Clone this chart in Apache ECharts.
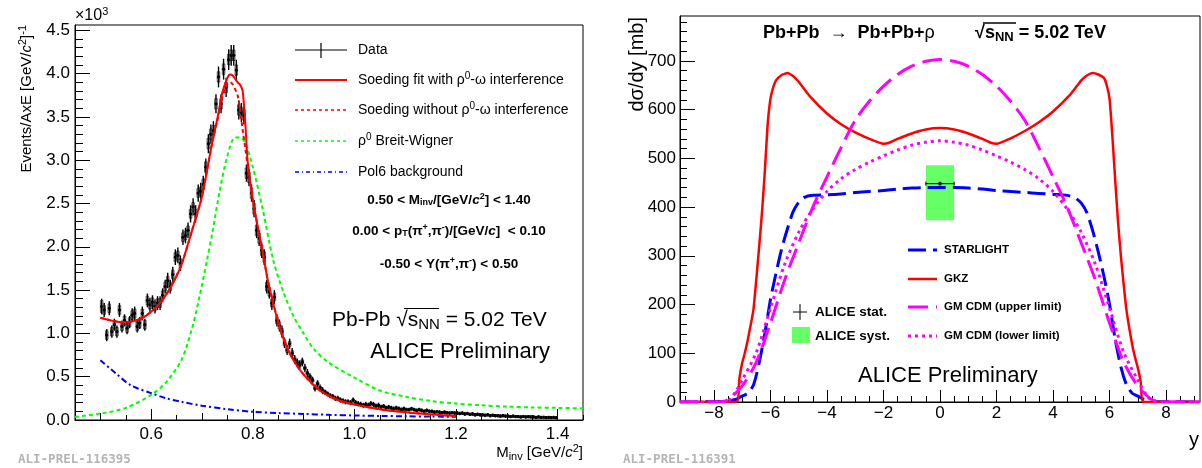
<!DOCTYPE html>
<html><head><meta charset="utf-8">
<script src="https://cdn.jsdelivr.net/npm/echarts@6.0.0/dist/echarts.min.js"></script>
<style>html,body{margin:0;padding:0;background:#fff}#c{width:1202px;height:468px}</style>
</head><body><div id="c"></div><script>
// ---------------- LEFT PANEL DATA ----------------
const binStart = 0.50, binWidth = 0.005;   // histogram binning in M_inv
const dataValues = [ // x10^3
 1.31,1.27,0.98,1.29,1.02,1.10,1.02,1.27,1.08,1.15,
 1.06,1.13,1.21,1.23,1.08,1.12,1.23,1.10,1.38,1.33,
 1.36,1.31,1.35,1.35,1.44,1.54,1.61,1.54,1.68,1.88,
 1.90,1.81,2.11,2.13,2.19,2.38,2.46,2.38,2.62,2.64,
 2.72,2.92,3.19,3.30,3.34,3.65,3.96,3.65,4.05,3.84,
 4.16,4.21,4.21,4.04,3.58,3.55,3.52,2.85,2.80,2.62,
 2.44,2.19,2.10,1.96,1.88,
 1.54,1.48,1.35,1.42,1.15,1.09,1.02,0.89,0.81,0.88,
 0.77,0.70,0.66,0.64,0.67,0.60,0.54,0.50,0.46,0.37,
 0.42,0.37,0.34,0.32,0.30,0.28,0.27,0.25,0.25,0.23,
 0.22,0.21,0.21,0.20,0.23,
 0.20,0.19,0.18,0.17,0.18,0.17,0.19,0.18,0.16,0.17,
 0.15,0.16,0.14,0.15,0.14,0.13,0.14,0.13,0.12,0.13,
 0.12,0.12,0.13,0.12,0.11,0.12,0.11,0.10,0.11,0.10,
 0.10,0.09,0.095,0.09,0.085,0.09,0.085,0.08,0.085,0.08,
 0.08,0.075,0.08,0.07,0.075,0.065,0.07,0.06,0.065,0.06,
 0.06,0.055,0.06,0.05,0.055,0.05,0.05,0.045,0.05,0.045,
 0.045,0.04,0.045,0.04,0.04,0.035,0.04,0.035,0.038,0.035,
 0.035,0.03,0.035,0.03,0.032,0.028,0.03,0.028,0.03,0.027
];
const statErr = [
 0.09,0.08,0.07,0.08,0.07,0.07,0.07,0.08,0.07,0.07,
 0.07,0.07,0.08,0.08,0.07,0.07,0.08,0.07,0.08,0.08,
 0.08,0.08,0.08,0.08,0.08,0.08,0.09,0.08,0.09,0.09,
 0.09,0.09,0.09,0.09,0.09,0.10,0.10,0.10,0.10,0.10,
 0.10,0.10,0.11,0.11,0.11,0.11,0.12,0.11,0.12,0.11,
 0.12,0.12,0.12,0.12,0.11,0.11,0.11,0.10,0.10,0.10,
 0.10,0.09,0.09,0.09,0.09,
 0.08,0.08,0.08,0.08,0.07,0.07,0.07,0.06,0.06,0.06,
 0.06,0.05,0.05,0.05,0.05,0.05,0.05,0.04,0.04,0.04,
 0.04,0.04,0.04,0.03,0.03,0.03,0.03,0.03,0.03,0.03,
 0.03,0.03,0.03,0.03,0.03,
 0.03,0.03,0.03,0.03,0.03,0.03,0.03,0.03,0.03,0.03,
 0.025,0.025,0.025,0.025,0.025,0.025,0.025,0.025,0.025,0.025,
 0.022,0.022,0.022,0.022,0.022,0.022,0.022,0.022,0.022,0.022,
 0.02,0.02,0.02,0.02,0.02,0.02,0.02,0.02,0.02,0.02,
 0.02,0.02,0.02,0.02,0.02,0.02,0.02,0.02,0.02,0.02,
 0.018,0.018,0.018,0.018,0.018,0.018,0.018,0.018,0.018,0.018,
 0.016,0.016,0.016,0.016,0.016,0.016,0.016,0.016,0.016,0.016,
 0.015,0.015,0.015,0.015,0.015,0.015,0.015,0.015,0.015,0.015
];
const sysErr = [
 0.07,0.05,0.05,0.05,0.05,0.05,0.05,0.05,0.05,0.05,
 0.05,0.05,0.05,0.05,0.05,0.05,0.05,0.05,0.05,0.05,
 0.05,0.05,0.05,0.05,0.05,0.05,0.05,0.05,0.05,0.05,
 0.05,0.05,0.05,0.05,0.05,0.05,0.05,0.05,0.05,0.05,
 0.06,0.06,0.06,0.06,0.06,0.06,0.06,0.06,0.06,0.06,
 0.06,0.06,0.06,0.06,0.06,0.06,0.06,0.06,0.06,0.06,
 0.06,0.06,0.06,0.06,0.06,
 0.05,0.05,0.045,0.045,0.04,0.04,0.035,0.035,0.03,0.03,
 0.03,0.025,0.025,0.025,0.025,0.02,0.02,0.02,0.02,0.02,
 0.02,0.018,0.018,0.018,0.016,0.016,0.016,0.015,0.015,0.015,
 0.014,0.014,0.013,0.013,0.013,
 0.012,0.012,0.012,0.012,0.012,0.012,0.012,0.012,0.012,0.012,
 0.012,0.012,0.012,0.012,0.012,0.012,0.012,0.012,0.012,0.012,
 0.012,0.012,0.012,0.012,0.012,0.012,0.012,0.012,0.012,0.012,
 0.012,0.012,0.012,0.012,0.012,0.012,0.012,0.012,0.012,0.012,
 0.012,0.012,0.012,0.012,0.012,0.012,0.012,0.012,0.012,0.012,
 0.012,0.012,0.012,0.012,0.012,0.012,0.012,0.012,0.012,0.012,
 0.012,0.012,0.012,0.012,0.012,0.012,0.012,0.012,0.012,0.012,
 0.012,0.012,0.012,0.012,0.012,0.012,0.012,0.012,0.012,0.012
];
const fitMass = [0.50,0.52,0.54,0.56,0.58,0.60,0.62,0.64,0.66,0.68,0.70,0.72,0.73,0.74,0.75,0.755,0.76,0.77,0.775,0.78,0.785,0.79,0.80,0.81,0.82,0.83,0.85,0.87,0.89,0.91,0.93,0.95,0.97,1.00,1.05,1.10,1.15,1.20];
const fitWith    = [1.18,1.15,1.13,1.135,1.17,1.25,1.37,1.55,1.80,2.18,2.58,3.20,3.47,3.78,3.95,3.99,3.98,3.90,3.87,3.80,3.45,2.98,2.54,2.22,1.92,1.60,1.13,0.80,0.60,0.46,0.35,0.28,0.225,0.18,0.125,0.09,0.065,0.045];
const fitWithout = [1.18,1.15,1.13,1.135,1.17,1.25,1.37,1.55,1.80,2.18,2.58,3.20,3.45,3.73,3.88,3.90,3.88,3.75,3.58,3.35,3.15,2.93,2.54,2.22,1.92,1.60,1.13,0.80,0.60,0.46,0.35,0.28,0.225,0.18,0.125,0.09,0.065,0.045];
const bwMass = [0.45,0.50,0.55,0.60,0.63,0.66,0.68,0.695,0.71,0.72,0.735,0.75,0.765,0.775,0.785,0.80,0.82,0.84,0.86,0.88,0.90,0.92,0.95,1.00,1.05,1.10,1.15,1.20,1.25,1.30,1.35,1.40,1.45];
const bwVal  = [0.035,0.075,0.14,0.29,0.44,0.70,1.05,1.42,1.85,2.15,2.65,3.05,3.26,3.26,3.20,2.92,2.42,1.85,1.48,1.20,1.00,0.82,0.66,0.49,0.34,0.27,0.22,0.19,0.17,0.155,0.145,0.14,0.135];
const pol6Mass = [0.50,0.53,0.56,0.60,0.63,0.66,0.70,0.75,0.80,0.85,0.90,0.95,1.00,1.05,1.10,1.15,1.20];
const pol6Val  = [0.69,0.54,0.40,0.31,0.25,0.21,0.165,0.125,0.095,0.08,0.07,0.06,0.052,0.047,0.043,0.04,0.037];
const leftXMajor = [0.6,0.8,1.0,1.2,1.4];
const leftXMid   = [0.5,0.7,0.9,1.1,1.3];
const leftXMinor = [0.45,0.55,0.65,0.75,0.85,0.95,1.05,1.15,1.25,1.35,1.45];
const leftYMajor = [0,0.5,1,1.5,2,2.5,3,3.5,4,4.5];
const leftYMinor = [0.1,0.2,0.3,0.4,0.6,0.7,0.8,0.9,1.1,1.2,1.3,1.4,1.6,1.7,1.8,1.9,2.1,2.2,2.3,2.4,2.6,2.7,2.8,2.9,3.1,3.2,3.3,3.4,3.6,3.7,3.8,3.9,4.1,4.2,4.3,4.4];

// ---------------- RIGHT PANEL DATA ----------------
const starY   = [-9.2,-7.6,-7.4,-7.2,-7.0,-6.8,-6.6,-6.4,-6.2,-6.0,-5.8,-5.6,-5.4,-5.2,-5.0,-4.8,-4.5,-4.0,-3.5,-3.0,-2.5,-2.0,-1.5,-1.0,-0.5,0,0.5,1.0,1.5,2.0,2.5,3.0,3.5,4.0,4.5,4.8,5.0,5.2,5.4,5.6,5.8,6.0,6.2,6.4,6.6,6.8,7.0,7.2,7.4,7.6,9.2];
const starVal = [0,1,3,6,12,18,35,80,140,210,265,315,355,390,410,420,424,425,427,430,432,434,437,439,440,440,440,439,437,434,432,430,428,426,424,418,408,388,352,308,258,200,128,72,35,18,12,6,3,1,0];
const gkzY   = [-9.2,-7.2,-7.1,-7.0,-6.9,-6.8,-6.6,-6.4,-6.3,-6.2,-6.1,-6.0,-5.9,-5.8,-5.6,-5.4,-5.2,-5.0,-4.6,-4.0,-3.5,-3.0,-2.5,-2.0,-1.8,-1.5,-1.0,-0.5,0,0.5,1.0,1.5,1.8,2.0,2.5,3.0,3.5,4.0,4.6,5.0,5.2,5.4,5.6,5.8,5.9,6.0,6.1,6.2,6.3,6.4,6.6,6.8,6.9,7.0,7.1,7.2,9.2];
const gkzVal = [0,0,48,80,102,128,190,318,388,472,568,622,646,660,671,675,669,657,627,592,570,553,540,530,532,540,551,559,562,559,551,540,532,530,541,556,574,596,630,660,670,675,672,665,650,622,545,455,370,300,188,118,92,70,42,0,0];
const gmUpY   = [-9.2,-7.9,-7.5,-7.0,-6.5,-6.0,-5.5,-5.0,-4.5,-4.0,-3.5,-3.0,-2.5,-2.0,-1.5,-1.0,-0.5,0,0.5,1.0,1.5,2.0,2.5,3.0,3.5,4.0,4.5,5.0,5.5,6.0,6.5,7.0,7.5,7.9,9.2];
const gmUpVal = [0,0,5,33,82,162,250,326,400,462,522,578,617,648,672,689,699,703,699,689,672,648,617,578,522,462,400,326,250,162,82,33,5,0,0];
const gmLoY   = [-9.2,-7.6,-7.3,-7.0,-6.5,-6.0,-5.5,-5.0,-4.5,-4.0,-3.5,-3.0,-2.5,-2.0,-1.5,-1.0,-0.5,0,0.5,1.0,1.5,2.0,2.5,3.0,3.5,4.0,4.5,5.0,5.5,6.0,6.5,7.0,7.3,7.6,9.2];
const gmLoVal = [0,0,15,45,102,192,282,348,396,432,458,477,492,505,517,527,533,536,533,527,517,505,492,477,458,432,396,348,282,192,102,45,15,0,0];
const aliceY = [0], aliceHalfWidth = [0.5], aliceVal = [448], aliceStat = [4], aliceSysLo = [373], aliceSysHi = [486];
const rightXMajor = [-8,-6,-4,-2,0,2,4,6,8];
const rightXMinor = [-9,-8.5,-7.5,-7,-6.5,-5.5,-5,-4.5,-3.5,-3,-2.5,-1.5,-1,-0.5,0.5,1,1.5,2.5,3,3.5,4.5,5,5.5,6.5,7,7.5,8.5,9];
const rightYMajor = [0,100,200,300,400,500,600,700];
const rightYMinor = [20,40,60,80,120,140,160,180,220,240,260,280,320,340,360,380,420,440,460,480,520,540,560,580,620,640,660,680,720,740,760,780];

// ---------------- HELPERS ----------------
const F = "'Liberation Sans', Arial, Helvetica, sans-serif";
function rich(fs, bold) {
  const w = bold ? 'bold' : 'normal';
  const s = Math.round(fs * 0.7);
  return {
    sup: { fontSize: s, fontFamily: F, fontWeight: w, padding: [0, 0, Math.round(fs * 0.5), 0] },
    sub: { fontSize: s, fontFamily: F, fontWeight: w, padding: [Math.round(fs * 0.45), 0, 0, 0] },
    it:  { fontSize: fs, fontFamily: F, fontWeight: w, fontStyle: 'italic' },
    n:   { fontSize: fs, fontFamily: F, fontWeight: 'normal' }
  };
}
function T(x, y, text, o) {
  o = o || {};
  const fs = o.size || 14;
  const a = o.align || 'left';
  return { type: 'text', x: x, y: y, rotation: o.rot || 0, z: 100, silent: true,
    style: { text: text, fontFamily: o.family || F, fontSize: fs, fontWeight: o.bold ? 'bold' : 'normal',
      fill: o.color || '#000', align: a, textAlign: a, verticalAlign: 'middle', textVerticalAlign: 'middle',
      rich: rich(fs, o.bold) } };
}
function L(x1, y1, x2, y2, color, w, dash) {
  return { type: 'line', z: 100, silent: true, shape: { x1: x1, y1: y1, x2: x2, y2: y2 },
    style: { stroke: color, lineWidth: w, lineDash: dash || null } };
}
function pairs(xs, ys) { return xs.map((x, i) => [x, ys[i]]); }
function tickAxis(grid, min, max, pos, values, len, showLine, labelFmt, labelSize, margin) {
  return {
    type: 'value', gridIndex: grid, min: min, max: max, position: pos, offset: 0,
    axisLine: { show: showLine, onZero: false, lineStyle: { color: '#000', width: 1 } },
    axisTick: { show: true, inside: true, length: len, customValues: values, lineStyle: { color: '#000', width: 1 } },
    axisLabel: labelFmt ? { show: true, customValues: values, formatter: labelFmt, fontFamily: F, fontSize: labelSize, color: '#000', margin: margin } : { show: false },
    splitLine: { show: false }, minorTick: { show: false }
  };
}
const minusFmt = v => (v < 0 ? '\u2212' + Math.abs(v) : String(v));

const chart = echarts.init(document.getElementById('c'), null, { renderer: 'canvas' });

const dataItems = dataValues.map((v, i) => [binStart + binWidth * (i + 0.5), v, statErr[i], sysErr[i]]);

const option = {
  animation: false,
  backgroundColor: '#fff',
  grid: [
    { left: 75, top: 25, width: 508, height: 395, show: true, borderColor: '#000', borderWidth: 1, backgroundColor: 'rgba(0,0,0,0)' },
    { left: 680, top: 16, width: 520, height: 386, show: true, borderColor: '#000', borderWidth: 1, backgroundColor: 'rgba(0,0,0,0)' }
  ],
  xAxis: [
    tickAxis(0, 0.45, 1.45, 'bottom', leftXMajor, 11, true, v => v.toFixed(1), 17, 6),
    tickAxis(0, 0.45, 1.45, 'bottom', leftXMid, 7, false),
    tickAxis(0, 0.45, 1.45, 'bottom', leftXMinor, 5, false),
    tickAxis(1, -9.2, 9.2, 'bottom', rightXMajor, 12, true, minusFmt, 17, 3),
    tickAxis(1, -9.2, 9.2, 'bottom', rightXMinor, 6, false)
  ],
  yAxis: [
    tickAxis(0, 0, 4.56, 'left', leftYMajor, 15, true, v => v.toFixed(1), 17, 5),
    tickAxis(0, 0, 4.56, 'left', leftYMinor, 8, false),
    tickAxis(1, 0, 792, 'left', rightYMajor, 15, true, v => String(v), 17, 4),
    tickAxis(1, 0, 792, 'left', rightYMinor, 7, false)
  ],
  series: [
    { type: 'custom', name: 'Data', xAxisIndex: 0, yAxisIndex: 0, z: 3, silent: true, clip: true,
      encode: { x: 0, y: 1 },
      renderItem: function (params, api) {
        const m = api.value(0), v = api.value(1), e = api.value(2), s = api.value(3);
        const hw = binWidth / 2;
        const c = api.coord([m, v]);
        const pl = api.coord([m - hw, v]), pr = api.coord([m + hw, v]);
        const pt = api.coord([m, v + e]), pb = api.coord([m, v - e]);
        const b1 = api.coord([m - hw, v + s]), b2 = api.coord([m + hw, v - s]);
        return { type: 'group', children: [
          { type: 'rect', shape: { x: b1[0], y: b1[1], width: b2[0] - b1[0], height: b2[1] - b1[1] }, style: { fill: 'rgba(0,0,0,0)', stroke: '#333', lineWidth: 0.8 } },
          { type: 'line', shape: { x1: pt[0], y1: pt[1], x2: pb[0], y2: pb[1] }, style: { stroke: '#000', lineWidth: 1.4 } },
          { type: 'line', shape: { x1: pl[0], y1: c[1], x2: pr[0], y2: c[1] }, style: { stroke: '#000', lineWidth: 1 } },
          { type: 'circle', shape: { cx: c[0], cy: c[1], r: 1.6 }, style: { fill: '#000' } }
        ] };
      },
      data: dataItems },
    { type: 'line', name: 'BW', xAxisIndex: 0, yAxisIndex: 0, data: pairs(bwMass, bwVal), showSymbol: false, symbol: 'none', smooth: 0.3, silent: true, z: 4,
      lineStyle: { color: '#00ff00', width: 2, type: [4, 3] } },
    { type: 'line', name: 'Pol6', xAxisIndex: 0, yAxisIndex: 0, data: pairs(pol6Mass, pol6Val), showSymbol: false, symbol: 'none', smooth: 0.3, silent: true, z: 4,
      lineStyle: { color: '#0000ff', width: 2, type: [6, 3, 2, 3] } },
    { type: 'line', name: 'Without', xAxisIndex: 0, yAxisIndex: 0, data: pairs(fitMass, fitWithout), showSymbol: false, symbol: 'none', smooth: 0.2, silent: true, z: 5,
      lineStyle: { color: '#ff0000', width: 2, type: [4, 3] } },
    { type: 'line', name: 'Fit', xAxisIndex: 0, yAxisIndex: 0, data: pairs(fitMass, fitWith), showSymbol: false, symbol: 'none', smooth: 0.2, silent: true, z: 6,
      lineStyle: { color: '#ff0000', width: 2 } },

    { type: 'custom', name: 'ALICE syst', xAxisIndex: 3, yAxisIndex: 2, z: 2, silent: true,
      renderItem: function (params, api) {
        const y = api.value(0), hw = api.value(1), lo = api.value(2), hi = api.value(3);
        const p1 = api.coord([y - hw, hi]), p2 = api.coord([y + hw, lo]);
        return { type: 'rect', shape: { x: p1[0], y: p1[1], width: p2[0] - p1[0], height: p2[1] - p1[1] }, style: { fill: '#66ff66' } };
      },
      data: aliceY.map((y, i) => [y, aliceHalfWidth[i], aliceSysLo[i], aliceSysHi[i]]) },
    { type: 'line', name: 'STARLIGHT', xAxisIndex: 3, yAxisIndex: 2, data: pairs(starY, starVal), showSymbol: false, symbol: 'none', smooth: 0.25, silent: true, z: 4,
      lineStyle: { color: '#0000ff', width: 3, type: [18, 7] } },
    { type: 'line', name: 'GKZ', xAxisIndex: 3, yAxisIndex: 2, data: pairs(gkzY, gkzVal), showSymbol: false, symbol: 'none', smooth: 0.15, silent: true, z: 5,
      lineStyle: { color: '#ff0000', width: 2.5 } },
    { type: 'line', name: 'GM upper', xAxisIndex: 3, yAxisIndex: 2, data: pairs(gmUpY, gmUpVal), showSymbol: false, symbol: 'none', smooth: 0.3, silent: true, z: 6,
      lineStyle: { color: '#ff00ff', width: 3, type: [20, 8] } },
    { type: 'line', name: 'GM lower', xAxisIndex: 3, yAxisIndex: 2, data: pairs(gmLoY, gmLoVal), showSymbol: false, symbol: 'none', smooth: 0.3, silent: true, z: 6,
      lineStyle: { color: '#ff00ff', width: 3, type: [3, 4] } },
    { type: 'custom', name: 'ALICE stat', xAxisIndex: 3, yAxisIndex: 2, z: 8, silent: true,
      renderItem: function (params, api) {
        const y = api.value(0), hw = api.value(1), v = api.value(2), e = api.value(3);
        const c = api.coord([y, v]), l = api.coord([y - hw, v]), r = api.coord([y + hw, v]);
        const t = api.coord([y, v + e]), b = api.coord([y, v - e]);
        return { type: 'group', children: [
          { type: 'line', shape: { x1: l[0], y1: c[1], x2: r[0], y2: c[1] }, style: { stroke: '#000', lineWidth: 1 } },
          { type: 'line', shape: { x1: l[0], y1: c[1] - 2, x2: l[0], y2: c[1] + 2 }, style: { stroke: '#000', lineWidth: 1 } },
          { type: 'line', shape: { x1: r[0], y1: c[1] - 2, x2: r[0], y2: c[1] + 2 }, style: { stroke: '#000', lineWidth: 1 } },
          { type: 'line', shape: { x1: c[0], y1: t[1], x2: c[0], y2: b[1] }, style: { stroke: '#000', lineWidth: 1 } },
          { type: 'rect', shape: { x: c[0] - 1.5, y: c[1] - 1.5, width: 3, height: 3 }, style: { fill: '#000' } }
        ] };
      },
      data: aliceY.map((y, i) => [y, aliceHalfWidth[i], aliceVal[i], aliceStat[i]]) }
  ],
  graphic: [
    // ---- left panel texts ----
    T(75, 16, '\u00d710{sup|3}', { size: 16 }),
    T(27, 25, 'Events/AxE [GeV/{it|c}{sup|2}]{sup|-1}', { size: 15, rot: Math.PI / 2, align: 'right' }),
    T(583, 453, 'M{sub|inv} [GeV/{it|c}{sup|2}]', { size: 15, align: 'right' }),
    L(295, 50, 347, 50, '#000', 1.2), L(321, 43, 321, 58, '#000', 1.2),
    T(358, 50, 'Data', { size: 14 }),
    L(295, 80, 347, 80, '#ff0000', 2),
    T(358, 80, 'Soeding fit with \u03c1{sup|0}-\u03c9 interference', { size: 14 }),
    L(295, 110, 347, 110, '#ff0000', 1.5, [3, 3]),
    T(358, 110, 'Soeding without \u03c1{sup|0}-\u03c9 interference', { size: 14 }),
    L(295, 141, 347, 141, '#00ff00', 1.5, [3, 3]),
    T(358, 141, '\u03c1{sup|0} Breit-Wigner', { size: 14 }),
    L(295, 172, 347, 172, '#0000ff', 1.5, [4, 3, 1, 3]),
    T(358, 172, 'Pol6 background', { size: 14 }),
    T(449, 200, '0.50 < M{sub|inv}/[GeV/{it|c}{sup|2}] < 1.40', { size: 13.5, bold: true, align: 'center' }),
    T(449, 231, '0.00 < p{sub|T}(\u03c0{sup|+},\u03c0{sup|-})/[GeV/{it|c}]  < 0.10', { size: 13.5, bold: true, align: 'center' }),
    T(449, 264, '-0.50 < Y(\u03c0{sup|+},\u03c0{sup|-}) < 0.50', { size: 13.5, bold: true, align: 'center' }),
    T(332, 320, 'Pb-Pb \u221as{sub|NN} = 5.02 TeV', { size: 21 }),
    L(404, 308.5, 439, 308.5, '#000', 1.2),
    T(550, 352, 'ALICE Preliminary', { size: 22, align: 'right' }),
    T(18, 460, 'ALI-PREL-116395', { size: 12.5, bold: true, color: '#b4b4b4', family: "'DejaVu Sans Mono', monospace" }),
    // ---- right panel texts ----
    T(637, 17, 'd\u03c3/dy [mb]', { size: 20, rot: Math.PI / 2, align: 'right' }),
    T(763, 33, 'Pb+Pb  {n|\u2192}  Pb+Pb+{n|\u03c1}', { size: 18, bold: true }),
    T(975, 33, '\u221as{sub|NN} = 5.02 TeV', { size: 18, bold: true }),
    L(983, 23, 1016, 23, '#000', 1.5),
    L(793, 312, 807, 312, '#000', 1), L(800, 304, 800, 320, '#000', 1),
    T(815, 312, 'ALICE stat.', { size: 13.5, bold: true }),
    { type: 'rect', z: 100, silent: true, shape: { x: 792, y: 327, width: 18, height: 16 }, style: { fill: '#66ff66' } },
    T(815, 336, 'ALICE syst.', { size: 13.5, bold: true }),
    L(908, 250, 937, 250, '#0000ff', 3, [18, 7]),
    T(944, 250, 'STARLIGHT', { size: 11.5, bold: true }),
    L(908, 279, 937, 279, '#ff0000', 2.5),
    T(944, 279, 'GKZ', { size: 11.5, bold: true }),
    L(908, 307, 937, 307, '#ff00ff', 3, [20, 8]),
    T(944, 307, 'GM CDM (upper limit)', { size: 11.5, bold: true }),
    L(908, 336, 937, 336, '#ff00ff', 3, [3, 4]),
    T(944, 336, 'GM CDM (lower limit)', { size: 11.5, bold: true }),
    T(858, 376, 'ALICE Preliminary', { size: 22 }),
    T(1199, 440, 'y', { size: 20, align: 'right' }),
    T(623, 460, 'ALI-PREL-116391', { size: 12.5, bold: true, color: '#b4b4b4', family: "'DejaVu Sans Mono', monospace" })
  ]
};
chart.setOption(option);
</script></body></html>
